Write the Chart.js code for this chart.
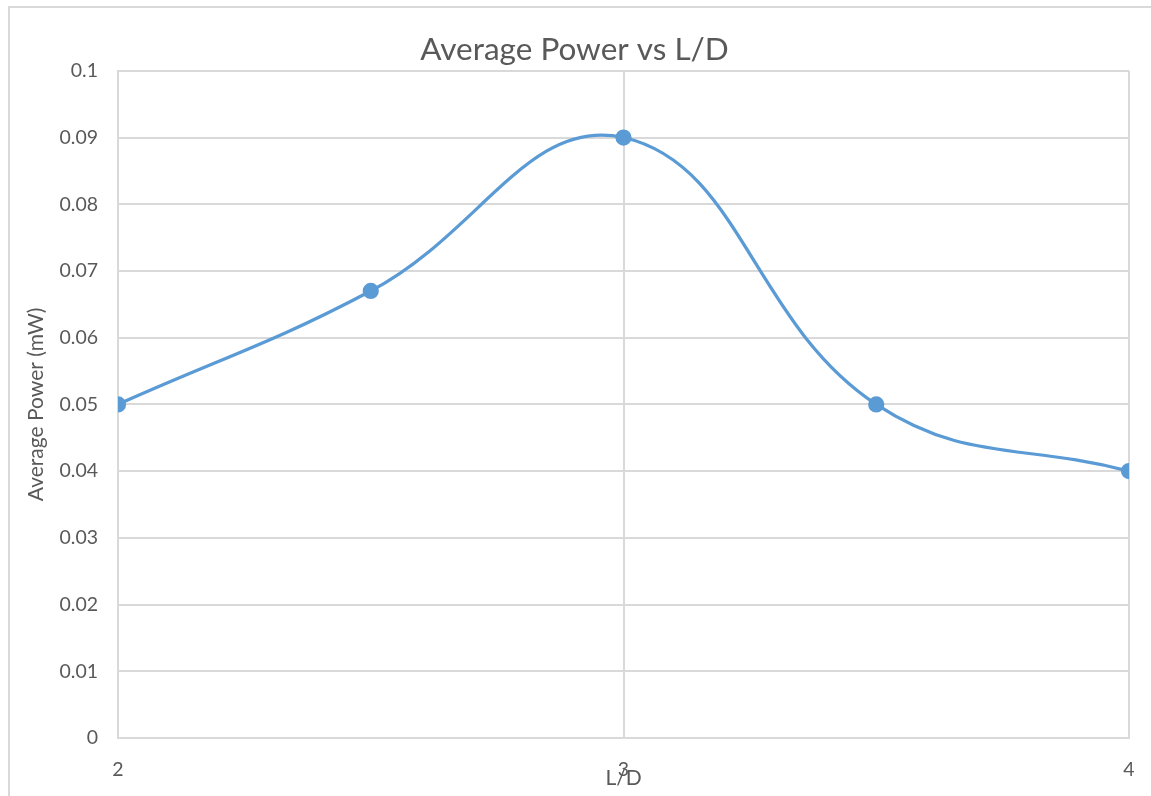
<!DOCTYPE html>
<html>
<head>
<meta charset="utf-8">
<title>Average Power vs L/D</title>
<script src="https://cdn.jsdelivr.net/npm/chart.js@4"></script>
<style>
    html, body { margin: 0; padding: 0; background: #ffffff; }
</style>
</head>
<body>
<canvas id="powerChart" width="1151" height="796"></canvas>
<script>
// values
const ldRatios = [2, 2.5, 3, 3.5, 4];
const avgPower = [0.05, 0.067, 0.09, 0.05, 0.04];
const yTicks = [0, 0.01, 0.02, 0.03, 0.04, 0.05, 0.06, 0.07, 0.08, 0.09, 0.1];

const textGrey = '#595959';
const gridGrey = '#d9d9d9';
const lineBlue = '#5b9bd5';

Chart.defaults.font.family = 'Lato, "Open Sans", sans-serif';
Chart.defaults.color = textGrey;

// light frame around the whole chart, cut off at right/bottom like the screenshot
const outerFrame = {
    id: 'outerFrame',
    beforeDraw(chart) {
        const ctx = chart.ctx;
        ctx.save();
        ctx.strokeStyle = gridGrey;
        ctx.lineWidth = 2;
        ctx.strokeRect(9, 7, chart.width + 20, chart.height + 20);
        ctx.restore();
    }
};

const points = ldRatios.map((x, i) => ({ x: x, y: avgPower[i] }));

new Chart(document.getElementById('powerChart'), {
    type: 'line',
    data: {
        datasets: [{
            label: 'Average Power',
            data: points,
            borderColor: lineBlue,
            backgroundColor: lineBlue,
            borderWidth: 3.25,
            pointRadius: 6.5,
            pointHoverRadius: 7,
            tension: 0.42,
            fill: false
        }]
    },
    options: {
        responsive: false,
        animation: false,
        devicePixelRatio: 1,
        layout: { padding: { left: 20, right: 22, top: 0, bottom: 0 } },
        plugins: {
            legend: { display: false },
            tooltip: { enabled: false },
            title: {
                display: true,
                text: 'Average Power vs L/D',
                color: textGrey,
                font: { size: 31.5, weight: 'normal' },
                padding: { top: 31, bottom: 2 }
            }
        },
        scales: {
            x: {
                type: 'linear',
                min: 2,
                max: 4,
                afterFit(scale) {
                    scale.height = 58;
                    scale.paddingLeft = 0;
                    scale.paddingRight = 0;
                },
                ticks: {
                    stepSize: 1,
                    padding: 20,
                    font: { size: 19.5 },
                    color: textGrey
                },
                grid: { color: gridGrey, lineWidth: 2, drawTicks: false },
                border: { color: gridGrey, width: 2 },
                title: {
                    display: true,
                    text: 'L/D',
                    color: textGrey,
                    font: { size: 21 },
                    padding: { top: 0, bottom: 5 }
                }
            },
            y: {
                min: 0,
                max: 0.1,
                afterFit(scale) { scale.width = 98; },
                afterBuildTicks(scale) { scale.ticks = yTicks.map(v => ({ value: v })); },
                ticks: {
                    padding: 20,
                    font: { size: 19.5 },
                    color: textGrey,
                    callback: v => String(+v.toFixed(2))
                },
                grid: { color: gridGrey, lineWidth: 2, drawTicks: false },
                border: { color: gridGrey, width: 2 },
                title: {
                    display: true,
                    text: 'Average Power (mW)',
                    color: textGrey,
                    font: { size: 21 },
                    padding: { top: 4, bottom: 0 }
                }
            }
        }
    },
    plugins: [outerFrame]
});
</script>
</body>
</html>
